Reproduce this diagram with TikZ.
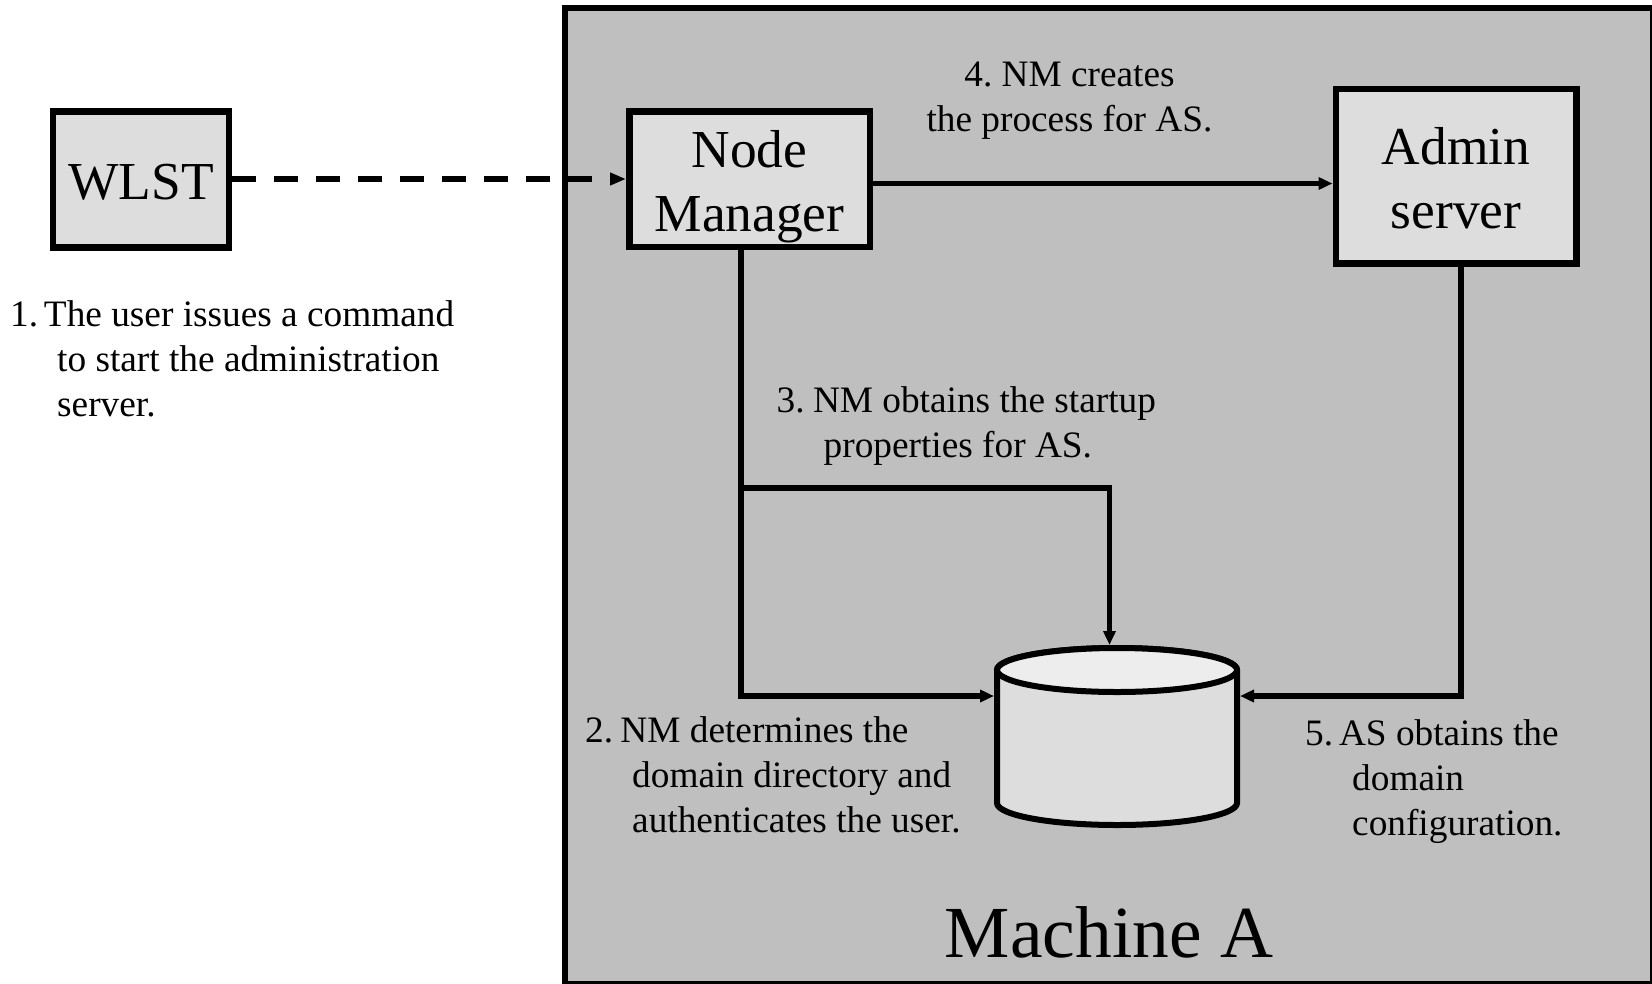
\documentclass[tikz,border=0pt]{standalone}
\usepackage{fontspec}
\setmainfont{Liberation Serif}
\usetikzlibrary{arrows.meta}
\definecolor{machinegrey}{HTML}{BFBFBF}
\definecolor{boxgrey}{HTML}{DDDDDD}
\definecolor{topgrey}{HTML}{EDEDED}
\tikzset{
  x=1pt,y=-1pt,
  boxnode/.style={draw=black,line width=6.5pt,fill=boxgrey,inner sep=0pt,align=center,font=\fontsize{53.4}{64}\selectfont},
  flow/.style={draw=black,line width=5.5pt,line cap=round,line join=miter,-{Triangle[length=14pt,width=12pt]}},
  note/.style={inner sep=0pt,align=left,anchor=base west,font=\fontsize{37.3}{45}\selectfont},
}
\newcommand{\hang}{\hspace*{47pt}}
\newcommand{\topstrut}[1]{\rule{0pt}{#1}}
\begin{document}
\frenchspacing
\begin{tikzpicture}
\useasboundingbox (0,0) rectangle (1652,983);
\node[draw=black,line width=6pt,fill=machinegrey,inner sep=0pt,minimum width=1088pt,minimum height=976pt] (machine) at (1109,496) {};
\node[boxnode,minimum width=176pt,minimum height=136pt] (wlst) at (141,179.5) {\topstrut{41pt}WLST};
\node[boxnode,minimum width=240.5pt,minimum height=135.5pt] (nm) at (749.5,179) {\topstrut{53pt}Node\\Manager};
\node[boxnode,minimum width=240.5pt,minimum height=174.5pt] (admin) at (1456,176) {\topstrut{42pt}Admin\\server};
\node[inner sep=0pt,outer sep=0pt,minimum width=246pt,minimum height=183pt] (db) at (1117,736.5) {};
\draw[line width=6pt,fill=boxgrey] (997,670) -- (997,803) arc[start angle=180,end angle=360,x radius=120,y radius=-22] -- (1237,670) arc[start angle=0,end angle=180,x radius=120,y radius=-22] -- cycle;
\draw[line width=6pt,fill=topgrey] (1117,670) ellipse[x radius=120,y radius=22];

\coordinate (yfour) at (0,183.5);
\coordinate (xnm) at (741,0);
\coordinate (ybranch) at (0,488);
\coordinate (xdbin) at (1109.5,0);
\coordinate (ydb) at (0,696);
\coordinate (xadmin) at (1461,0);
\coordinate (ydash) at (0,179);

\draw[line width=6pt,dash pattern=on 24pt off 18pt,-{Triangle[length=16pt,width=12pt]}] (wlst.east |- ydash) -- (nm.west |- ydash);
\draw[flow] (nm.east |- yfour) -- (admin.west |- yfour);
\draw[flow] (nm.south -| xnm) -- (xnm |- ydb) -- (db.west |- ydb);
\draw[flow] (xnm |- ybranch) -- (xdbin |- ybranch) -- (xdbin |- db.north);
\draw[flow] (admin.south -| xadmin) -- (xadmin |- ydb) -- (db.east |- ydb);

\node[note] (n1) at (10,416) {1.\kern-3.5pt{} The user issues a command\\\hang to start the administration\\\hang server.};
\node[note] (n2) at (585,832) {2.\kern-2pt{} NM determines the\\\hang domain directory and\\\hang authenticates the user.};
\node[note] (n3) at (776.5,457) {3.\kern-1pt{} NM obtains the startup\\\hang properties for AS.};
\node[note,align=center,anchor=base] (n4) at (1069.5,131) {4. NM creates\\the process for AS.};
\node[note] (n5) at (1305,835) {5.\kern-3.5pt{} AS obtains the\\\hang domain\\\hang configuration.};
\node[inner sep=0pt,anchor=base,font=\fontsize{73.4}{80}\selectfont] (mlabel) at (1109,957) {Machine A};
\end{tikzpicture}
\end{document}
